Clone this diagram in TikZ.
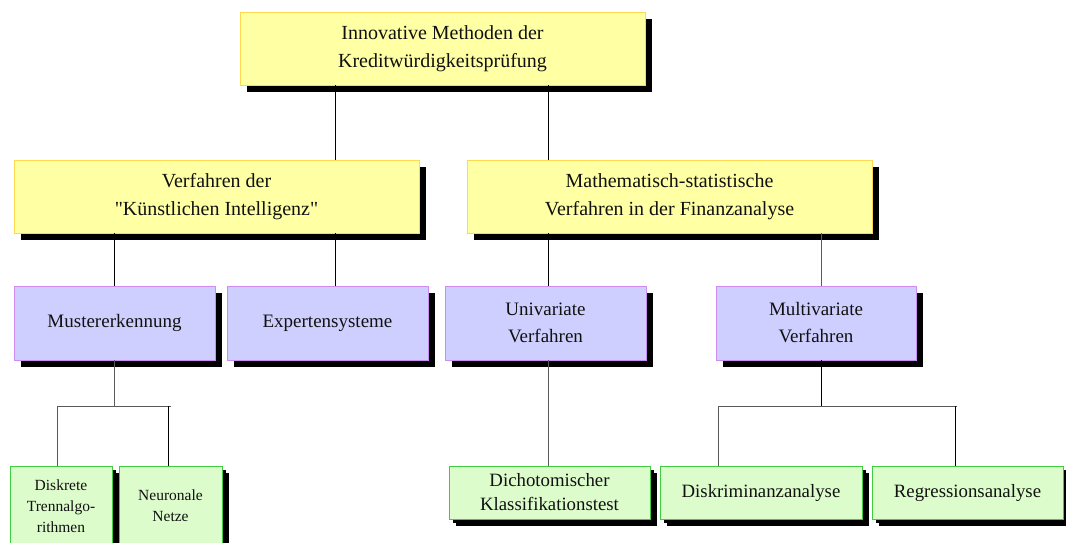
\documentclass[tikz,border=0pt]{standalone}
\usepackage{fontspec}
\setmainfont{Liberation Serif}
\usetikzlibrary{shadows}
\definecolor{yelfill}{HTML}{FFFFA3}
\definecolor{yeldraw}{HTML}{FFD84F}
\definecolor{viofill}{HTML}{CFCFFF}
\definecolor{viodraw}{HTML}{CC8CF2}
\definecolor{grnfill}{HTML}{DDFCCC}
\definecolor{grndraw}{HTML}{3FCC3F}
\definecolor{txt}{HTML}{111111}
\definecolor{linkgray}{HTML}{5A5A5A}
\begin{document}
\begin{tikzpicture}[x=1pt,y=-1pt,
  box/.style={draw, line width=0.9pt, align=center, text=txt, inner sep=0pt,
    drop shadow={shadow xshift=7pt, shadow yshift=-7pt, fill=black, opacity=1}},
  topbox/.style={box, fill=yelfill, draw=yeldraw, minimum width=405pt, minimum height=73pt,
    font=\fontsize{20}{28}\selectfont},
  midbox/.style={box, fill=viofill, draw=viodraw, minimum width=201pt, minimum height=74pt,
    font=\fontsize{19}{27}\selectfont},
  leafbox/.style={box, fill=grnfill, draw=grndraw, minimum height=53pt,
    drop shadow={shadow xshift=4pt, shadow yshift=-4pt, fill=black, opacity=1},
    font=\fontsize{18.8}{24}\selectfont},
  smallleaf/.style={leafbox, minimum width=102pt, minimum height=80pt,
    font=\fontsize{15.5}{21}\selectfont},
  link/.style={line width=0.8pt, draw=black},
  sublink/.style={line width=0.8pt, draw=linkgray}]
\useasboundingbox (0,0) rectangle (1066,542);

% level 1
\node[topbox] (root) at (442.5,48.5) {Innovative Methoden der\\Kreditwürdigkeitsprüfung};

% level 2
\node[topbox] (ki) at (216.5,196.5) {Verfahren der\\\textquotedbl Künstlichen Intelligenz\textquotedbl};
\node[topbox] (math) at (669.5,196.5) {Mathematisch-statistische\\Verfahren in der Finanzanalyse};

% level 3
\node[midbox] (muster) at (114.5,323) {Mustererkennung};
\node[midbox] (expert) at (327.5,323) {Expertensysteme};
\node[midbox] (uni) at (545.5,323) {Univariate\\Verfahren};
\node[midbox, minimum width=200pt] (multi) at (816,323) {Multivariate\\Verfahren};

% level 4
\node[smallleaf] (diskret) at (61,506) {Diskrete\\Trennalgo-\\rithmen};
\node[smallleaf, minimum width=103pt] (neuro) at (170.5,506) {Neuronale\\Netze};
\node[leafbox, minimum width=201pt] (dicho) at (549.5,492.5) {Dichotomischer\\Klassifikationstest};
\node[leafbox, minimum width=202pt] (diskrim) at (761,492.5) {Diskriminanzanalyse};
\node[leafbox, minimum width=191pt] (regr) at (967.5,492.5) {Regressionsanalyse};

% columns and junction rows of the connectors
\coordinate (cA) at (335,0);
\coordinate (cB) at (548,0);
\coordinate (cC) at (821,0);
\coordinate (cD) at (57,0);
\coordinate (cE) at (168,0);
\coordinate (cF) at (718,0);
\coordinate (cG) at (955,0);
\coordinate (row) at (0,406);
\coordinate (musterL) at (57,406);
\coordinate (musterR) at (171,406);
\coordinate (multiL) at (718,406);
\coordinate (multiR) at (957,406);

% connectors
\draw[link] (root.south -| cA) -- (ki.north -| cA);
\draw[link] (root.south -| cB) -- (math.north -| cB);
\draw[link] (ki.south -| muster.north) -- (muster.north);
\draw[link] (ki.south -| cA) -- (expert.north -| cA);
\draw[link] (math.south -| cB) -- (uni.north -| cB);
\draw[sublink] (math.south -| cC) -- (multi.north -| cC);

\draw[sublink] (muster.south) -- (muster.south |- row);
\draw[sublink] (musterL) -- (musterR);
\draw[sublink] (diskret.north -| cD) -- (row -| cD);
\draw[link] (neuro.north -| cE) -- (row -| cE);

\draw[sublink] (uni.south -| cB) -- (dicho.north -| cB);

\draw[link] (multi.south -| cC) -- (row -| cC);
\draw[sublink] (multiL) -- (multiR);
\draw[sublink] (diskrim.north -| cF) -- (row -| cF);
\draw[link] (regr.north -| cG) -- (row -| cG);
\end{tikzpicture}
\end{document}
